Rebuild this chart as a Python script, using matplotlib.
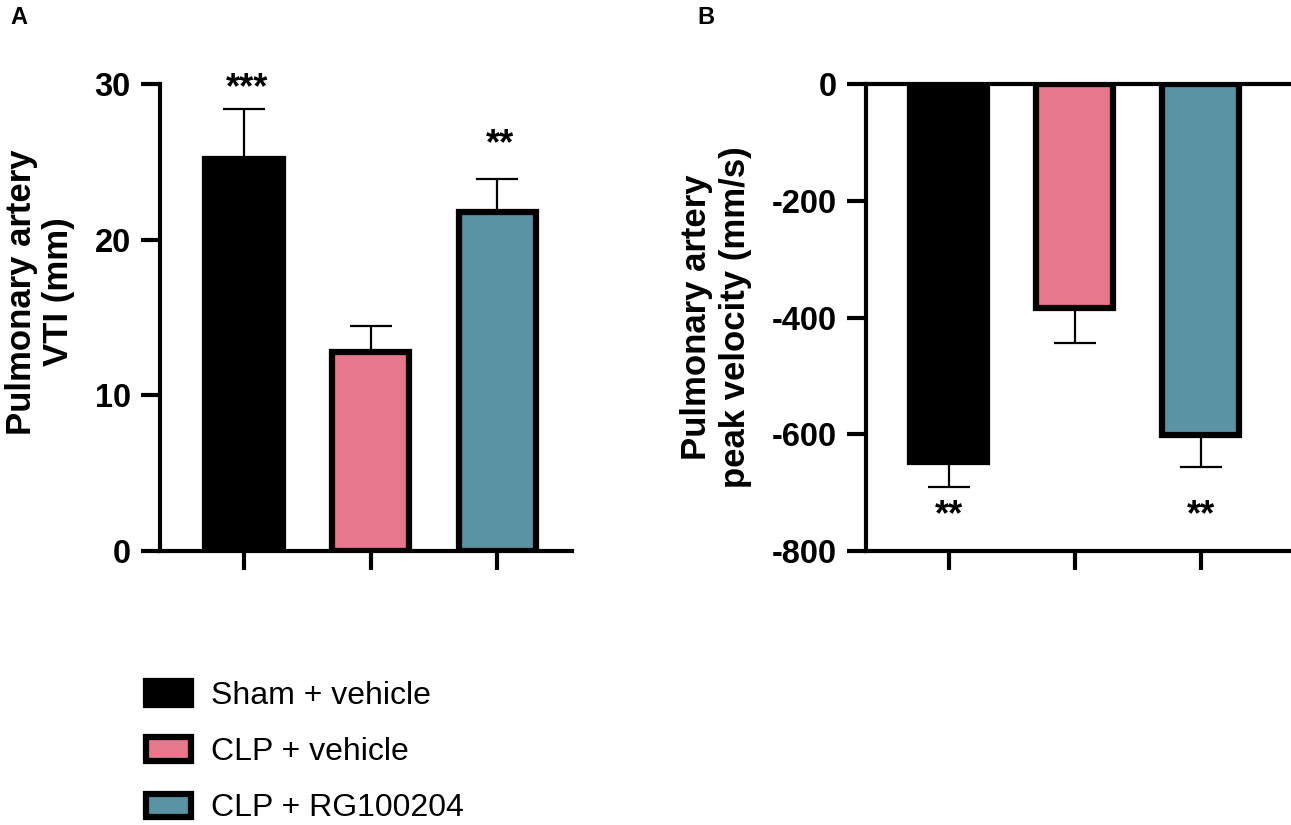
import matplotlib.pyplot as plt
from matplotlib.patches import Patch

plt.rcParams['font.family'] = ['Liberation Sans', 'DejaVu Sans']
plt.rcParams['axes.unicode_minus'] = False

# groupes et couleurs
groupes = ['Sham + vehicle', 'CLP + vehicle', 'CLP + RG100204']
couleurs = ['#000000', '#E7778D', '#5A93A3']

# panneau A : VTI (mm)
vti = [25.2, 12.8, 21.8]
vti_err = [3.2, 1.65, 2.1]
vti_etoiles = ['***', '', '**']
vti_etoiles_y = [28.6, 0, 24.95]

# panneau B : vitesse de pic (mm/s)
vitesse = [-647, -384, -601]
vitesse_err = [43, 60, 55]
vitesse_etoiles = ['**', '', '**']
vitesse_etoiles_y = [-770, 0, -770]

x = [0, 1, 2]
lw_axe = 3.0

fig = plt.figure(figsize=(12.91, 8.25), dpi=100)
axA = fig.add_axes([160/1291, 1-551/825, (572-160)/1291, (551-84)/825])
axB = fig.add_axes([866/1291, 1-551/825, (1289-866)/1291, (551-84)/825])

# --- A ---
axA.errorbar(x, vti, yerr=[[0, 0, 0], vti_err], fmt='none', ecolor='k',
             elinewidth=1.6, capsize=15, capthick=1.6, zorder=1)
axA.bar(x, vti, width=0.61, color=couleurs, edgecolor='k', linewidth=4.5, zorder=2)
for xi, ys, s in zip(x, vti_etoiles_y, vti_etoiles):
    if s:
        axA.text(xi + 0.02, ys, s, ha='center', va='bottom', fontsize=26,
                 fontweight='bold')
axA.set_ylim(0, 30)
axA.set_xlim(-0.664, 2.59)
axA.set_yticks([0, 10, 20, 30])
axA.spines['top'].set_visible(False)
axA.spines['right'].set_visible(False)
axA.set_ylabel('Pulmonary artery\nVTI (mm)', fontsize=25, fontweight='bold',
               labelpad=14, linespacing=1.15)
axA.yaxis.label.set_y(0.555)

# --- B ---
axB.errorbar(x, vitesse, yerr=[vitesse_err, [0, 0, 0]], fmt='none', ecolor='k',
             elinewidth=1.6, capsize=15, capthick=1.6, zorder=1)
axB.bar(x, vitesse, width=0.61, color=couleurs, edgecolor='k', linewidth=4.5, zorder=2)
for xi, ys, s in zip(x, vitesse_etoiles_y, vitesse_etoiles):
    if s:
        axB.text(xi, ys, s, ha='center', va='bottom', fontsize=26,
                 fontweight='bold')
axB.set_ylim(-800, 0)
axB.set_xlim(-0.656, 2.70)
axB.set_yticks([0, -200, -400, -600, -800])
axB.spines['right'].set_visible(False)
axB.set_ylabel('Pulmonary artery\npeak velocity (mm/s)', fontsize=25,
               fontweight='bold', labelpad=14, linespacing=1.25)

for ax in (axA, axB):
    for sp in ax.spines.values():
        sp.set_linewidth(lw_axe)
    ax.set_xticks(x)
    ax.set_xticklabels([])
    ax.tick_params(axis='both', width=lw_axe, length=14, labelsize=23.5, pad=7)
    ax.tick_params(axis='x', top=False)
    for lab in ax.get_yticklabels():
        lab.set_fontweight('bold')
    ax.spines['left'].set_zorder(3)

fig.text(10/1291, 1-6/825, 'A', fontsize=17, fontweight='bold', va='top')
fig.text(697/1291, 1-6/825, 'B', fontsize=17, fontweight='bold', va='top')

poignees = [Patch(facecolor=c, edgecolor='k', linewidth=4.5) for c in couleurs]
fig.legend(poignees, groupes, loc='upper left', bbox_to_anchor=(130/1291, 1-665/825),
           frameon=False, fontsize=23, handlelength=1.4, handleheight=0.75,
           handletextpad=0.65, labelspacing=0.82, borderpad=0)

fig.savefig('out.png', dpi=100)
